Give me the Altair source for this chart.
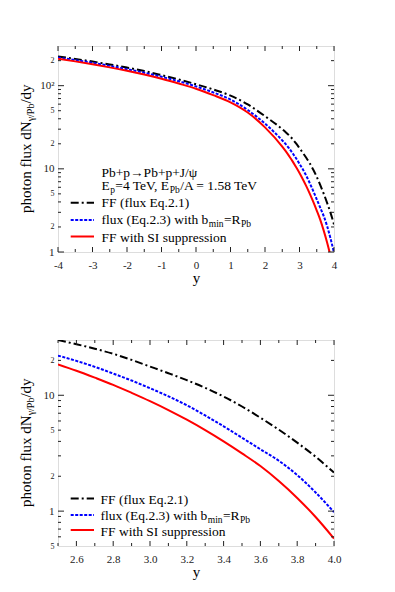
import altair as alt
import pandas as pd

# ---------------- data ----------------
y_coarse = [-4, -3.5, -3, -2.5, -2, -1.5, -1, -0.5, 0, 0.5, 1, 1.5, 2]
y_fine = [2.5, 2.6, 2.7, 2.8, 2.9, 3.0, 3.1, 3.2, 3.3, 3.4, 3.5, 3.6, 3.7, 3.8, 3.9, 4.0]

ff_coarse = [225, 210, 195, 180, 165, 150, 134, 119, 104, 90, 76, 59.5, 43]
ff_fine = [30, 27.6, 25.2, 22.8, 20.2, 17.7, 15.5, 13.5, 11.6, 9.75, 8.0, 6.4, 5.05, 3.9, 2.95, 2.15]

bmin_coarse = [218, 203, 188, 173, 158, 143, 128, 113, 98, 83, 68, 51, 35]
bmin_fine = [22, 19.8, 17.6, 15.4, 13.4, 11.5, 9.8, 8.2, 6.7, 5.4, 4.3, 3.42, 2.72, 2.05, 1.45, 0.98]

si_coarse = [211, 196, 181, 166, 151, 136, 121, 106, 92, 77, 63, 47.5, 31.5]
si_fine = [18.5, 16.3, 14.2, 12.3, 10.5, 8.9, 7.45, 6.15, 5.0, 4.0, 3.15, 2.45, 1.82, 1.3, 0.89, 0.58]

# ticks / labels
top_x_major = [-4, -3, -2, -1, 0, 1, 2, 3, 4]
top_x_minor = [-3.5, -2.5, -1.5, -0.5, 0.5, 1.5, 2.5, 3.5]
top_y_major = [1, 10, 100]
top_y_minor = [2, 3, 4, 5, 6, 7, 8, 9, 20, 30, 40, 50, 60, 70, 80, 90, 200]
top_y_label_vals = [1, 2, 5, 10, 20, 50, 100, 200]
top_y_label_txt = ["1", "2", "5", "10", "2", "5", "10²", "2"]

bot_x_major = [2.6, 2.8, 3.0, 3.2, 3.4, 3.6, 3.8, 4.0]
bot_x_minor = [2.5, 2.7, 2.9, 3.1, 3.3, 3.5, 3.7, 3.9]
bot_y_major = [1, 10]
bot_y_minor = [0.6, 0.7, 0.8, 0.9, 2, 3, 4, 5, 6, 7, 8, 9, 20]
bot_y_label_vals = [0.5, 1, 2, 5, 10, 20]
bot_y_label_txt = ["5", "1", "2", "5", "10", "2"]

legend_labels = ["FF (flux Eq.2.1)", "flux (Eq.2.3) with b", "FF with SI suppression"]

# ---------------- layout constants ----------------
W, H = 276, 206
FONT = "Liberation Serif"
INK = "#222222"

# Times-metric widths (per 1000 em) for composing sub-scripted text
CW = {' ': 250, '(': 333, ')': 333, '+': 564, ',': 250, '.': 250, '/': 278, '=': 564,
      'A': 722, 'D': 722, 'E': 611, 'F': 556, 'I': 333, 'N': 722, 'P': 556, 'R': 667,
      'S': 556, 'T': 611, 'V': 722, 'a': 444, 'b': 500, 'd': 500, 'e': 444, 'f': 333,
      'h': 500, 'i': 278, 'l': 278, 'm': 778, 'n': 500, 'o': 500, 'p': 500, 'q': 500,
      'r': 333, 's': 389, 't': 278, 'u': 500, 'w': 722, 'x': 500, 'y': 500, 'γ': 440}
KERN = {"Te": -70, "V,": -129}


def tw(s, size):
    w = sum(CW.get(c, 500) for c in s)
    w += sum(KERN.get(s[i:i + 2], 0) for i in range(len(s) - 1))
    return w * size / 1000.0


one = pd.DataFrame({"a": [0]})


def text_at(s, x, y, size, angle=0, color="black"):
    return alt.Chart(one).mark_text(
        text=s, font=FONT, fontSize=size, align="left", baseline="alphabetic",
        angle=angle, color=color
    ).encode(x=alt.value(x), y=alt.value(y))


def rich_line(segments, x0, ybase, size=13.5, sub=9.5, sub_shift=3):
    out = []
    x = x0
    for s, is_sub in segments:
        fs = sub if is_sub else size
        out.append(text_at(s, x, ybase + (sub_shift if is_sub else 0), fs))
        x += tw(s, fs) + 0.4
    return out


def y_title(start_y):
    out = []
    y = start_y
    for s, fs, xb in [("photon flux dN", 15, -27), ("γ/Pb", 10, -24), ("/dy", 15, -27)]:
        out.append(text_at(s, xb, y, fs, angle=270))
        y -= tw(s, fs)
    return out


def label_expr(vals, txts):
    e = "''"
    for v, t in reversed(list(zip(vals, txts))):
        e = f"datum.value == {v} ? '{t}' : ({e})"
    return e


def ticks(xscale, yscale, xaxis, yaxis, xmaj, xmin, ymaj, ymin):
    layers = []
    for vals, L in ((ymaj, 6), (ymin, 3)):
        base = alt.Chart(pd.DataFrame({"v": vals})).mark_rule(color=INK, strokeWidth=1)
        yy = alt.Y("v:Q", scale=yscale, axis=yaxis)
        layers.append(base.encode(y=yy, x=alt.value(0), x2=alt.value(L)))
        layers.append(base.encode(y=yy, x=alt.value(W - L), x2=alt.value(W)))
    for vals, L in ((xmaj, 5), (xmin, 3)):
        base = alt.Chart(pd.DataFrame({"v": vals})).mark_rule(color=INK, strokeWidth=1)
        xx = alt.X("v:Q", scale=xscale, axis=xaxis)
        layers.append(base.encode(x=xx, y=alt.value(H), y2=alt.value(H - L)))
        layers.append(base.encode(x=xx, y=alt.value(0), y2=alt.value(L)))
    return layers


STYLES = {
    "ff": dict(color="black", strokeWidth=2, strokeDash=[8, 3, 2, 3]),
    "bmin": dict(color="#0000ff", strokeWidth=2, strokeDash=[3, 1.5]),
    "si": dict(color="#ff0000", strokeWidth=2),
}


def legend_sample(key, y):
    return alt.Chart(one).mark_rule(**STYLES[key]).encode(
        x=alt.value(12.7), x2=alt.value(36), y=alt.value(y))


def panel(xs_vals, series, xdomain, ydomain, xaxis, yaxis, tick_sets, extra):
    xscale = alt.Scale(domain=xdomain, nice=False, zero=False)
    yscale = alt.Scale(type="log", domain=ydomain, nice=False)
    layers = []
    for key in ["ff", "bmin", "si"]:
        df = pd.DataFrame({"x": xs_vals, "v": series[key]})
        enc = dict(
            x=alt.X("x:Q", scale=xscale, axis=xaxis),
            y=alt.Y("v:Q", scale=yscale, axis=yaxis),
        )
        layers.append(alt.Chart(df).mark_line(clip=True, interpolate="monotone", **STYLES[key]).encode(**enc))
    layers += ticks(xscale, yscale, xaxis, yaxis, *tick_sets)
    layers += extra
    return alt.layer(*layers).properties(width=W, height=H)


def yaxis_def(vals, txts, big):
    cond = " || ".join(f"datum.value == {b}" for b in big)
    return alt.Axis(
        values=vals, labelExpr=label_expr(vals, txts), title=None,
        domain=False, ticks=False, grid=False, labelPadding=4,
        labelFont=FONT, labelColor=INK,
        labelFontSize={"condition": {"test": cond, "value": 11}, "value": 8},
        labelFlush=False, labelOverlap=False, labelBound=False,
        minExtent=46, maxExtent=46,
    )


def xaxis_def(vals, expr):
    return alt.Axis(
        values=vals, labelExpr=expr, title="y", titleFont=FONT, titleFontSize=15,
        titleFontWeight="normal", titleColor="black", titlePadding=0,
        domain=False, ticks=False, grid=False, labelPadding=7,
        labelFont=FONT, labelFontSize=11, labelColor=INK,
        labelFlush=False, labelOverlap=False, labelBound=False,
    )


# ---------------- top panel ----------------
x_all = y_coarse + y_fine
top_series = {"ff": ff_coarse + ff_fine, "bmin": bmin_coarse + bmin_fine, "si": si_coarse + si_fine}

X0 = 43.5
top_extra = []
top_extra += y_title(167)
top_extra.append(text_at("Pb+p→Pb+p+J/ψ", X0, 126.7 + 4.5, 13.5))
top_extra += rich_line([("E", False), ("p", True), ("=4 TeV, E", False), ("Pb", True),
                        ("/A = 1.58 TeV", False)], X0, 139.5 + 4.5)
top_extra.append(legend_sample("ff", 156.7))
top_extra.append(text_at(legend_labels[0], X0, 156.7 + 4.5, 13.5))
top_extra.append(legend_sample("bmin", 174))
top_extra += rich_line([(legend_labels[1], False), ("min", True), ("=R", False), ("Pb", True)],
                       X0, 173.3 + 4.5)
top_extra.append(legend_sample("si", 190.5))
top_extra.append(text_at(legend_labels[2], X0, 191.2 + 4.5, 13.5))

top = panel(
    x_all, top_series, [-4, 4], [1, 300],
    xaxis_def(top_x_major, "'' + datum.value"),
    yaxis_def(top_y_label_vals, top_y_label_txt, [1, 10, 100]),
    (top_x_major, top_x_minor, top_y_major, top_y_minor),
    top_extra,
)

# ---------------- bottom panel ----------------
bot_series = {"ff": ff_fine, "bmin": bmin_fine, "si": si_fine}
bot_extra = []
bot_extra += y_title(167)
bot_extra.append(legend_sample("ff", 158.5))
bot_extra.append(text_at(legend_labels[0], X0 - 1, 159.3 + 4.5, 13.5))
bot_extra.append(legend_sample("bmin", 175))
bot_extra += rich_line([(legend_labels[1], False), ("min", True), ("=R", False), ("Pb", True)],
                       X0 - 1, 175 + 4.5)
bot_extra.append(legend_sample("si", 190))
bot_extra.append(text_at(legend_labels[2], X0 - 1, 191 + 4.5, 13.5))

bottom = panel(
    y_fine, bot_series, [2.5, 4.0], [0.5, 30],
    xaxis_def(bot_x_major, "format(datum.value, '.1f')"),
    yaxis_def(bot_y_label_vals, bot_y_label_txt, [1, 10]),
    (bot_x_major, bot_x_minor, bot_y_major, bot_y_minor),
    bot_extra,
)

chart = alt.vconcat(top, bottom, spacing=53).properties(
    padding={"left": 3, "top": 37, "right": 5, "bottom": 5}
).configure_view(stroke=INK, strokeWidth=1.5).configure_axis(
    titleFontWeight="normal"
).configure(background="white")

chart.save("out.html", embed_options={"renderer": "svg", "actions": False})
